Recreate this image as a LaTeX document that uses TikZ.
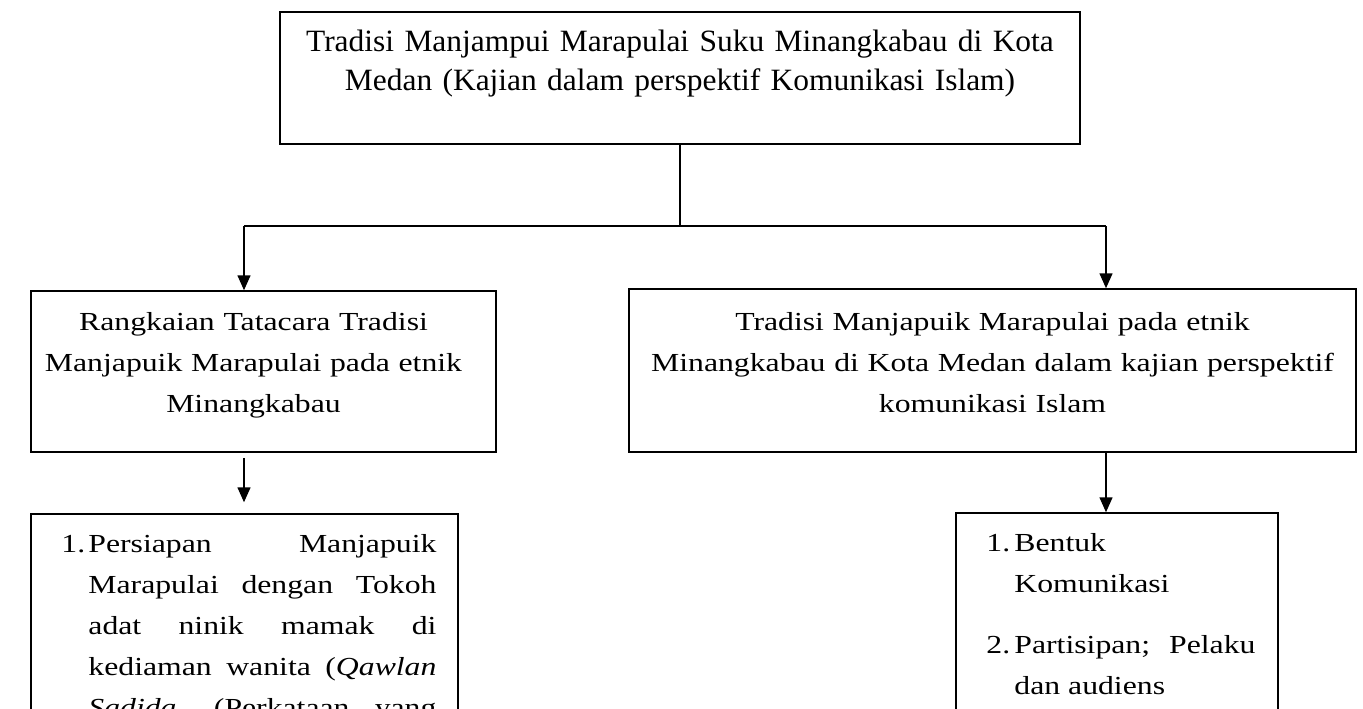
\documentclass[tikz,border=0pt]{standalone}
\usepackage{fontspec}
\setmainfont{Liberation Serif}
\newfontfamily\isifont[FakeStretch=1.22]{Liberation Serif}
\newfontfamily\judulfont[FakeStretch=1.015]{Liberation Serif}
\usetikzlibrary{arrows.meta,positioning}
\tikzset{
  >={Triangle[length=15pt,width=13pt]},
  box/.style={draw,line width=1.5pt,inner sep=0pt},
  txt/.style={inner sep=0pt,font=\isifont\fontsize{26}{41}\selectfont,align=center},
  jtxt/.style={txt,font=\judulfont\fontsize{31}{38.5}\selectfont},
  ltxt/.style={inner sep=0pt,font=\isifont\fontsize{26}{41}\selectfont},
  arr/.style={->,line width=1.5pt},
  garis/.style={line width=1.5pt},
}
\begin{document}
\begin{tikzpicture}[x=1pt,y=-1pt,node distance=20pt]
\useasboundingbox (0,0) rectangle (1363,709);
\clip (0,0) rectangle (1363,709);
\node[box,minimum width=800pt,minimum height=132pt] (judul) at (680,78) {};
\node[jtxt,text width=790pt,below=19pt of judul.north] (judultxt) {Tradisi Manjampui Marapulai Suku Minangkabau di Kota\\Medan (Kajian dalam perspektif Komunikasi Islam)};
\node[box,minimum width=465pt,minimum height=161pt] (tatacara) at (263.5,371.5) {};
\node[txt,text width=440pt,below=22pt of tatacara.north,xshift=-10pt] (tatacaratxt) {Rangkaian Tatacara Tradisi\\Manjapuik Marapulai pada etnik\\Minangkabau};
\node[box,minimum width=727pt,minimum height=163pt] (kajian) at (992.5,370.5) {};
\node[txt,text width=710pt,below=24pt of kajian.north] (kajiantxt) {Tradisi Manjapuik Marapulai pada etnik\\Minangkabau di Kota Medan dalam kajian perspektif\\komunikasi Islam};
\node[box,minimum width=427pt,minimum height=486pt] (persiapan) at (244.5,757) {};
\node[ltxt,below right=21pt and 31pt of persiapan.north west] (persiapantxt) {\parbox[t]{375pt}{\parfillskip=0pt
  \hangindent=27pt\hangafter=1\makebox[27pt][l]{1.}Persiapan Manjapuik\linebreak Marapulai dengan Tokoh\linebreak adat ninik mamak di\linebreak kediaman wanita (\textit{Qawlan}\linebreak \textit{Sadida}, (Perkataan yang}};
\node[box,minimum width=322pt,minimum height=487pt] (bentuk) at (1117,756.5) {};
\node[ltxt,below right=21pt and 31pt of bentuk.north west] (bentuktxt) {\parbox[t]{269pt}{%
  \hangindent=28pt\hangafter=1\makebox[28pt][l]{1.}Bentuk\linebreak Komunikasi\par\vspace{20pt}
  \hangindent=28pt\hangafter=1\makebox[28pt][l]{2.}Partisipan; Pelaku\linebreak dan audiens}};
\coordinate (kiri) at (244,226);
\coordinate (kanan) at (1106,226);
\draw[garis] (judul.south) -- (judul.south |- kiri);
\draw[garis] (kiri) -- (kanan);
\draw[arr] (kiri) -- (kiri |- tatacara.north);
\draw[arr] (kanan) -- (kanan |- kajian.north);
\draw[arr,shorten <=5pt,shorten >=11pt] (tatacara.south -| kiri) -- (persiapan.north -| kiri);
\draw[arr] (kajian.south -| kanan) -- (bentuk.north -| kanan);
\end{tikzpicture}
\end{document}
